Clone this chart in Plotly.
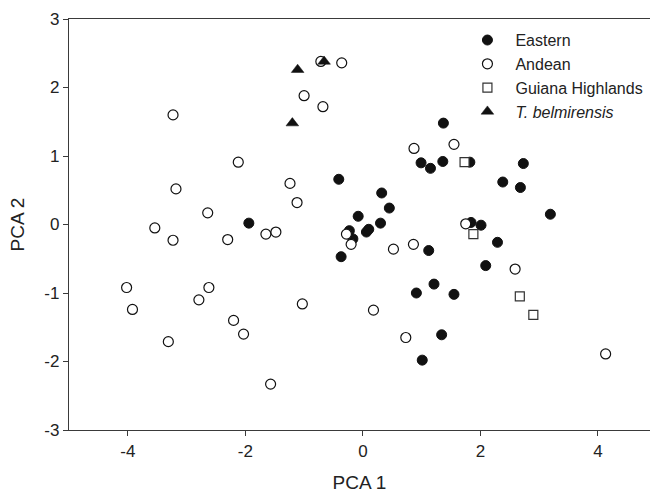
import plotly.graph_objects as go

# Data
eastern_x = [-0.41, -1.94, -0.08, 1.37, 0.99, 1.15, 1.36, 1.82, 2.73, 2.38, 2.68, 0.32, 0.45, 3.19,
             0.30, -0.23, 0.06, 0.10, -0.17, -0.37, 1.12, 1.84, 2.01, 2.29, 2.09, 0.91, 1.21, 1.55,
             1.34, 1.01]
eastern_y = [0.66, 0.02, 0.12, 1.48, 0.90, 0.82, 0.92, 0.91, 0.89, 0.62, 0.54, 0.46, 0.24, 0.15,
             0.02, -0.09, -0.11, -0.07, -0.21, -0.47, -0.38, 0.03, -0.01, -0.26, -0.60, -1.00, -0.87,
             -1.02, -1.61, -1.98]

andean_x = [-3.23, -0.715, -0.36, -1.00, -0.68, -2.12, -1.24, -3.18, -1.12, -2.64, -3.54, -3.23,
            -2.30, -1.65, -1.48, -0.28, -0.20, -4.02, -2.62, -3.92, -2.79, -1.03, -2.20, -2.03,
            -3.31, -1.57, 0.87, 1.55, 0.52, 0.86, 1.75, 2.59, 0.18, 0.73, 4.13]
andean_y = [1.60, 2.38, 2.36, 1.88, 1.72, 0.91, 0.60, 0.52, 0.32, 0.17, -0.05, -0.23,
            -0.22, -0.14, -0.11, -0.14, -0.29, -0.92, -0.92, -1.24, -1.10, -1.16, -1.40, -1.60,
            -1.71, -2.33, 1.11, 1.17, -0.36, -0.29, 0.01, -0.65, -1.25, -1.65, -1.89]

guiana_x = [1.73, 1.88, 2.67, 2.90]
guiana_y = [0.91, -0.14, -1.05, -1.32]

belm_x = [-1.11, -0.66, -1.20]
belm_y = [2.26, 2.38, 1.48]

x_ticks = [-4, -2, 0, 2, 4]
x_tick_labels = ["-4", "-2", "0", "2", "4"]
y_ticks = [-3, -2, -1, 0, 1, 2, 3]
y_tick_labels = ["-3", "-2", "-1", "0", "1", "2", "3"]

FONT = "Liberation Sans, Arial, sans-serif"
INK = "#222222"
AX = "#3a3a3a"

fig = go.Figure()
fig.add_trace(go.Scatter(x=eastern_x, y=eastern_y, mode="markers", name="Eastern",
                         marker=dict(symbol="circle", size=10, color="#111111",
                                     line=dict(color="#111111", width=1))))
fig.add_trace(go.Scatter(x=andean_x, y=andean_y, mode="markers", name="Andean",
                         marker=dict(symbol="circle", size=10, color="white",
                                     line=dict(color="#111111", width=1.2))))
fig.add_trace(go.Scatter(x=guiana_x, y=guiana_y, mode="markers", name="Guiana Highlands",
                         marker=dict(symbol="square", size=9, color="white",
                                     line=dict(color="#333333", width=1.2))))
fig.add_trace(go.Scatter(x=belm_x, y=belm_y, mode="markers", name="<i>T. belmirensis</i>",
                         marker=dict(symbol="triangle-up", size=11, color="#111111",
                                     line=dict(color="#111111", width=0.5))))

fig.update_layout(
    width=650, height=493,
    margin=dict(l=69, r=0, t=19, b=63),
    paper_bgcolor="white", plot_bgcolor="white",
    font=dict(family=FONT, color=INK, size=16),
    showlegend=True,
    legend=dict(x=0.672, y=0.99, xanchor="left", yanchor="top", itemwidth=46,
                font=dict(family=FONT, size=16, color=INK),
                bgcolor="rgba(0,0,0,0)", tracegroupgap=0, itemsizing="trace"),
    xaxis=dict(range=[-5, 4.885], tickvals=x_ticks, ticktext=x_tick_labels,
               showgrid=False, zeroline=False,
               showline=True, linecolor=AX, linewidth=1.3, mirror=True,
               ticks="outside", ticklen=5, tickwidth=1, tickcolor=AX,
               tickfont=dict(family=FONT, size=17, color=INK),
               title=dict(text="PCA 1", font=dict(family=FONT, size=19, color=INK), standoff=19)),
    yaxis=dict(range=[-3, 3], tickvals=y_ticks, ticktext=y_tick_labels,
               showgrid=False, zeroline=False,
               showline=True, linecolor=AX, linewidth=1.3,
               ticks="outside", ticklen=5, tickwidth=1, tickcolor=AX,
               tickfont=dict(family=FONT, size=17, color=INK),
               title=dict(text="PCA 2", font=dict(family=FONT, size=19, color=INK), standoff=14)),
)

fig.write_html("out.html", config={"displayModeBar": False},
               post_script="document.body.style.margin='0';document.body.style.overflow='hidden';")
